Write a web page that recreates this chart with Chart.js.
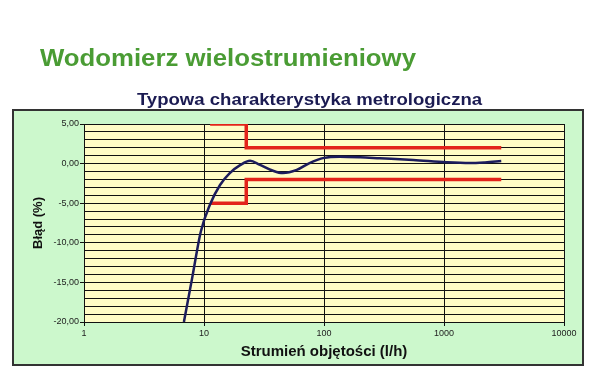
<!DOCTYPE html>
<html>
<head>
<meta charset="utf-8">
<script src="https://cdn.jsdelivr.net/npm/chart.js@4/dist/chart.umd.min.js"></script>
<style>
  html, body { margin: 0; padding: 0; background: #ffffff; }
  #wrap { position: relative; width: 600px; height: 390px; overflow: hidden; }
  canvas { position: absolute; left: 0; top: 0; }
  .t { position: absolute; white-space: nowrap; font-family: "Liberation Sans", Arial, sans-serif; font-weight: bold; }
  #main { left: 40px; top: 47px; font-size: 23px; line-height: 23px; color: #4a9c34; transform: scaleX(1.12); transform-origin: 0 0; }
  #sub { left: 0; width: 619px; text-align: center; top: 92px; font-size: 16px; line-height: 16px; color: #1b1b52; transform: scaleX(1.16); transform-origin: 309.5px 0; }
</style>
</head>
<body>
<div id="wrap">
  <canvas id="c" width="600" height="390"></canvas>
  <div class="t" id="main">Wodomierz wielostrumieniowy</div>
  <div class="t" id="sub">Typowa charakterystyka metrologiczna</div>
</div>
<script>
// ---- data ----
const xTickValues = [1, 10, 100, 1000, 10000];
const yRange = [-20, 5];

const curveFlow  = [6.8, 8.0, 9.4, 11.2, 13.6, 16.4, 20, 24.2, 29.3, 37.6, 45.4, 59.3, 75, 100, 135, 200, 292, 555, 1056, 1640, 2200, 3000];
const curveError = [-20, -14.3, -8.6, -5.2, -2.7, -1.2, -0.2, 0.35, -0.15, -0.9, -1.2, -0.8, 0.04, 0.72, 0.87, 0.8, 0.67, 0.45, 0.16, 0.06, 0.15, 0.33];

const upperFlow  = [11.25, 22.5, 22.5, 3000];
const upperLimit = [5, 5, 2, 2];
const lowerFlow  = [11.25, 22.5, 22.5, 3000];
const lowerLimit = [-5, -5, -2, -2];

const toPts = (xs, ys) => xs.map((x, i) => ({ x: x, y: ys[i] }));

const bgPlugin = {
  id: 'bg',
  beforeDraw(chart) {
    const ctx = chart.ctx;
    ctx.save();
    ctx.fillStyle = '#ccf8cc';
    ctx.fillRect(13, 110, 570, 255);
    ctx.strokeStyle = '#333333';
    ctx.lineWidth = 2;
    ctx.strokeRect(13, 110, 570, 255);
    const a = chart.chartArea;
    ctx.fillStyle = '#fffcc6';
    ctx.fillRect(a.left, a.top, a.right - a.left, a.bottom - a.top);
    ctx.restore();
  }
};

const font = { family: '"Liberation Sans", Arial, sans-serif' };

new Chart(document.getElementById('c'), {
  type: 'line',
  data: {
    datasets: [
      {
        label: 'Błąd',
        data: toPts(curveFlow, curveError),
        borderColor: '#1c1c5c',
        borderWidth: 2.5,
        pointRadius: 0,
        cubicInterpolationMode: 'monotone',
        fill: false,
        clip: 0
      },
      {
        label: 'Granica górna',
        data: toPts(upperFlow, upperLimit),
        borderColor: '#e3231b',
        borderWidth: 3.5,
        pointRadius: 0,
        tension: 0,
        fill: false,
        clip: 0
      },
      {
        label: 'Granica dolna',
        data: toPts(lowerFlow, lowerLimit),
        borderColor: '#e3231b',
        borderWidth: 3.5,
        pointRadius: 0,
        tension: 0,
        fill: false,
        clip: 0
      }
    ]
  },
  options: {
    responsive: false,
    animation: false,
    events: [],
    layout: { padding: { left: 27, right: 36, top: 124, bottom: 25 } },
    plugins: { legend: { display: false }, tooltip: { enabled: false }, title: { display: false } },
    scales: {
      x: {
        type: 'logarithmic',
        min: xTickValues[0],
        max: xTickValues[xTickValues.length - 1],
        afterBuildTicks(scale) { scale.ticks = xTickValues.map(v => ({ value: v })); },
        afterFit(scale) { scale.height = 43; },
        ticks: {
          autoSkip: false, maxRotation: 0, padding: 2,
          color: '#222222',
          font: Object.assign({ size: 9 }, font),
          callback: (v) => String(v)
        },
        grid: { color: '#111111', lineWidth: 1, tickLength: 4, tickColor: '#111111' },
        border: { color: '#111111', width: 1 },
        title: {
          display: true, text: 'Strumień objętości (l/h)',
          color: '#111111', padding: { top: 2, bottom: 4 },
          font: Object.assign({ size: 15, weight: 'bold' }, font)
        }
      },
      y: {
        type: 'linear',
        min: yRange[0],
        max: yRange[1],
        afterFit(scale) { scale.width = 57; },
        ticks: {
          stepSize: 1, autoSkip: false, padding: 1,
          color: '#222222',
          font: Object.assign({ size: 9 }, font),
          callback: (v) => (v % 5 === 0 ? v.toFixed(2).replace('.', ',') : '')
        },
        grid: {
          color: '#111111', lineWidth: 1, tickLength: 4,
          tickColor: (c) => (c.tick && c.tick.value % 5 === 0 ? '#111111' : 'rgba(0,0,0,0)')
        },
        border: { color: '#111111', width: 1 },
        title: {
          display: true, text: 'Błąd (%)',
          color: '#111111', padding: { top: 4, bottom: 4 },
          font: Object.assign({ size: 13, weight: 'bold' }, font)
        }
      }
    }
  },
  plugins: [bgPlugin]
});
</script>
</body>
</html>
